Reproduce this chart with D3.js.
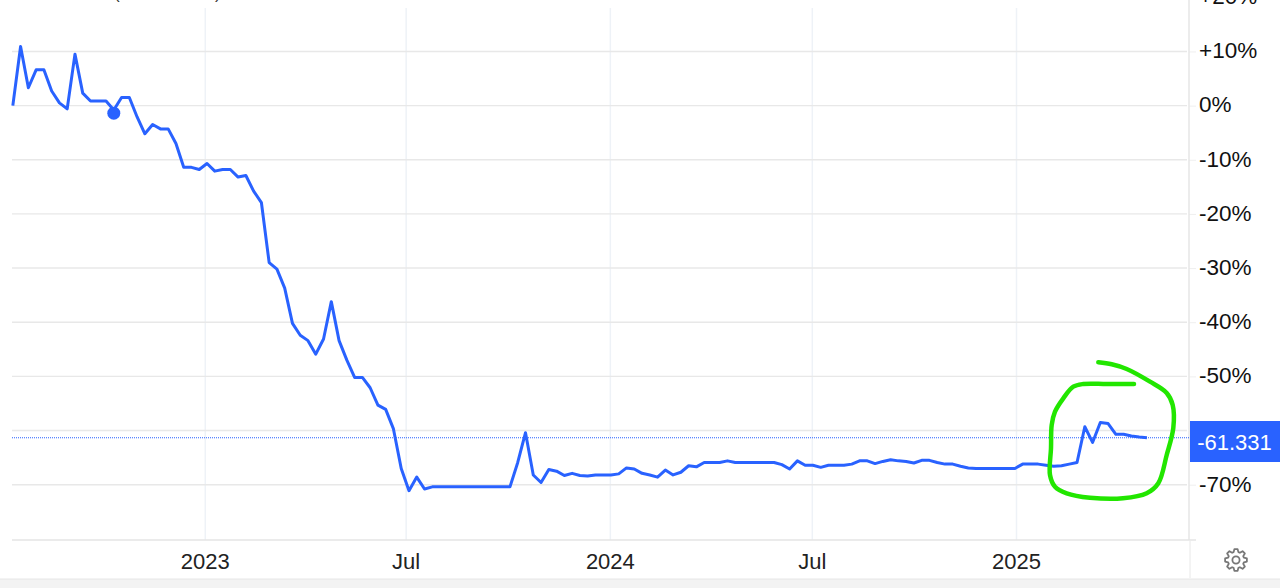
<!DOCTYPE html>
<html>
<head>
<meta charset="utf-8">
<script src="https://cdn.jsdelivr.net/npm/d3@7"></script>
<style>
html,body{margin:0;padding:0;background:#fff;overflow:hidden}
svg{display:block}
text{font-family:"Liberation Sans",Arial,sans-serif}
</style>
</head>
<body>
<svg id="chart" width="1280" height="588"></svg>
<script>
// weekly percentage change
const firstDate = "2022-07-12";
const seriesValues = [
  0,10.9,3.3,6.6,6.6,2.7,0.5,-0.6,9.5,2.3,0.85,0.85,0.85,-0.8,1.5,1.5,-2.1,-5.2,-3.5,-4.3,-4.3,-7.0,
  -11.4,-11.4,-11.8,-10.7,-12.1,-11.8,-11.8,-13.2,-12.9,-15.8,-17.9,-29.0,-30.2,-33.7,-40.2,-42.4,-43.4,
  -45.9,-43.1,-36.2,-43.4,-47.0,-50.2,-50.2,-52.1,-55.3,-56.1,-59.7,-67.0,-71.1,-68.6,-70.8,
  -70.4,-70.4,-70.4,-70.4,-70.4,-70.4,-70.4,-70.4,-70.4,-70.4,-70.4,
  -65.9,-60.4,-68.2,-69.6,-67.2,-67.5,-68.3,-67.9,-68.3,-68.4,-68.2,-68.2,-68.2,-68.0,-66.9,-67.1,-67.9,
  -68.2,-68.6,-67.3,-68.2,-67.7,-66.5,-66.7,-65.9,-65.9,-65.9,-65.6,-65.9,-65.9,-65.9,-65.9,-65.9,-65.9,
  -66.3,-67.1,-65.6,-66.4,-66.4,-66.8,-66.4,-66.4,-66.4,-66.2,-65.6,-65.6,-66.1,-65.7,-65.4,-65.6,-65.7,
  -66.0,-65.5,-65.5,-65.9,-66.2,-66.2,-66.6,-66.9,-67.0,-67.0,-67.0,-67.0,-67.0,-67.0,
  -66.2,-66.2,-66.2,-66.4,-66.6,-66.5,-66.2,-65.9,-59.3,-62.2,-58.5,-58.7,-60.7,-60.7,-61.0,-61.2,-61.331
];
const lastValue = -61.331;
const markerIndex = 13;
const markerValue = -1.4;
const yTicks = [20,10,0,-10,-20,-30,-40,-50,-60,-70];
const xTickDates = ["2023-01-01","2023-07-01","2024-01-01","2024-07-01","2025-01-01"];
const xTickLabels = ["2023","Jul","2024","Jul","2025"];
// hand-drawn green circle on the picture, as page points
const scribbleX = [1134,1106.7,1083.3,1073.3,1063.3,1055,1051.7,1051,1050,1055,1066.7,1090,1123,1146.7,1158.3,1166.7,1173.3,1172.7,1166.7,1150,1126.7,1111.7,1098.3];
const scribbleY = [384,384,384,386.7,398.3,411.7,425,448,475,486.7,493.3,497.7,498.3,493.3,483.3,455,428,405,393,381.7,369,364.3,362.3];

const BLUE = "#2962ff";
const svg = d3.select("#chart");
const parse = d3.utcParse("%Y-%m-%d");
const W = 1280, plotL = 12, plotR = 1189, plotB = 540, plotT = 8;

const x = d3.scaleUtc().domain([parse("2023-01-01"), parse("2025-01-01")]).range([204.8, 1016]);
const y = d3.scaleLinear().domain([0, -70]).range([105.6, 484.7]);
const dates = seriesValues.map((_, i) => d3.utcDay.offset(parse(firstDate), i * 7));

// bottom band
svg.append("rect").attr("x",0).attr("y",579).attr("width",W).attr("height",9).attr("fill","#f3f3f3");
svg.append("line").attr("x1",0).attr("x2",W).attr("y1",579).attr("y2",579).attr("stroke","#e6e6e6");

// vertical gridlines + x axis labels
const xAxis = d3.axisBottom(x)
  .tickValues(xTickDates.map(parse))
  .tickSize(plotB - plotT)
  .tickPadding(13)
  .tickFormat((d,i) => xTickLabels[i]);
const gx = svg.append("g").attr("transform",`translate(0,${plotT})`).call(xAxis);
gx.select(".domain").remove();
gx.selectAll("line").attr("stroke","#eef2f7").attr("stroke-width",1.5);
gx.selectAll("text").attr("font-size",22).attr("fill","#222").attr("font-family",'"Liberation Sans",Arial,sans-serif');

// horizontal gridlines
svg.append("g").selectAll("line").data(yTicks.filter(d => d <= 10)).join("line")
  .attr("x1",plotL).attr("x2",1187).attr("y1",d => y(d)).attr("y2",d => y(d))
  .attr("stroke","#e8e8e8").attr("stroke-width",1.4);

// y axis labels
const yAxis = d3.axisRight(y)
  .tickValues(yTicks)
  .tickSize(7)
  .tickPadding(3)
  .tickFormat(d => (d > 0 ? "+" : d < 0 ? "-" : "") + Math.abs(d) + "%");
const gy = svg.append("g").attr("transform",`translate(${plotR},0)`).call(yAxis);
gy.select(".domain").remove();
gy.selectAll("line").attr("stroke","#efefef").attr("stroke-width",1);
gy.selectAll("text").attr("font-size",22.5).attr("fill","#111").attr("dy","0.28em")
  .attr("font-family",'"Liberation Sans",Arial,sans-serif');

// axis frame
svg.append("line").attr("x1",plotR).attr("x2",plotR).attr("y1",0).attr("y2",plotB).attr("stroke","#e6e6e6").attr("stroke-width",1.5);
svg.append("line").attr("x1",plotL).attr("x2",1196).attr("y1",plotB).attr("y2",plotB).attr("stroke","#e4e4e4").attr("stroke-width",1.5);
svg.append("line").attr("x1",plotR+1).attr("x2",plotR+1).attr("y1",plotB+1).attr("y2",578).attr("stroke","#e8e8e8").attr("stroke-width",1);

// clipped title remnant at the very top
svg.append("text").attr("x",114).attr("y",-1).attr("font-size",17).attr("fill","#333").text("(");
svg.append("text").attr("x",215).attr("y",-1).attr("font-size",17).attr("fill","#333").text(")");

// last value dotted line
svg.append("line").attr("x1",plotL).attr("x2",plotR).attr("y1",y(lastValue)).attr("y2",y(lastValue))
  .attr("stroke",BLUE).attr("stroke-width",1).attr("stroke-dasharray","1 1");

// series
const line = d3.line().x((d,i) => x(dates[i])).y(d => y(d));
svg.append("path").datum(seriesValues).attr("d",line).attr("fill","none")
  .attr("stroke",BLUE).attr("stroke-width",3).attr("stroke-linejoin","round");

// marker
svg.append("circle").attr("cx",x(dates[markerIndex])).attr("cy",y(markerValue)).attr("r",6.5).attr("fill",BLUE);

// last value tag
svg.append("rect").attr("x",1190).attr("y",421).attr("width",90).attr("height",41).attr("fill",BLUE);
svg.append("text").attr("x",1234.5).attr("y",450).attr("text-anchor","middle")
  .attr("font-size",22).attr("fill","#fff").text(String(lastValue));

// green scribble
const scribble = d3.line().x((d,i) => scribbleX[i]).y(d => d).curve(d3.curveCatmullRom.alpha(0.5));
svg.append("path").attr("d",scribble(scribbleY)).attr("fill","none")
  .attr("stroke","#22e600").attr("stroke-width",4.5).attr("stroke-linecap","round").attr("stroke-linejoin","round");

// gear icon
const cx = 1236, cy = 560, teeth = 8;
const pts = [];
for (let i = 0; i < teeth; i++) {
  const a = i / teeth * 2 * Math.PI;
  const w = Math.PI / teeth;
  [[-1,8.2],[-0.5,11],[0.5,11],[1,8.2]].forEach(([k,r]) => {
    const t = a + k * w * 0.75;
    pts.push([cx + r * Math.sin(t), cy - r * Math.cos(t)]);
  });
}
svg.append("path").attr("d", d3.line().curve(d3.curveLinearClosed)(pts))
  .attr("fill","none").attr("stroke","#777").attr("stroke-width",1.8).attr("stroke-linejoin","round");
svg.append("circle").attr("cx",cx).attr("cy",cy).attr("r",3.6).attr("fill","none").attr("stroke","#777").attr("stroke-width",1.8);
</script>
</body>
</html>
